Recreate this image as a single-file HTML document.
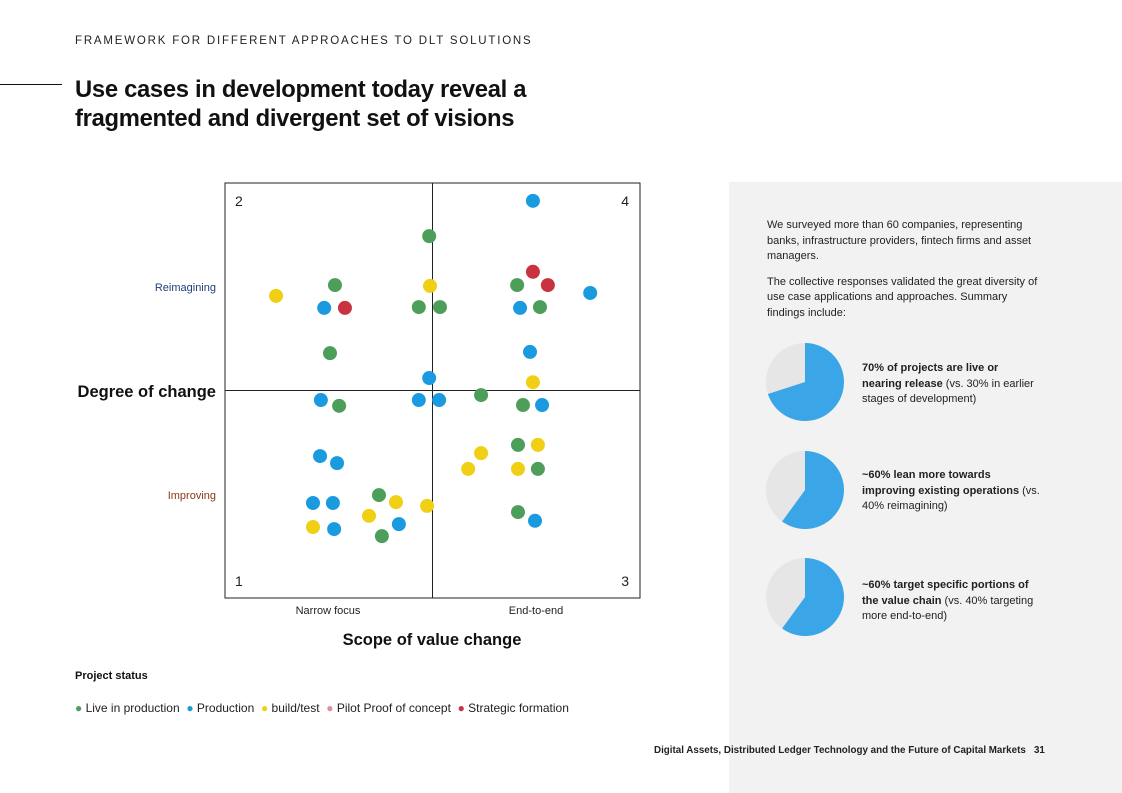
<!DOCTYPE html>
<html><head><meta charset="utf-8">
<style>
body{margin:0;width:1122px;height:793px;background:#fff;font-family:"Liberation Sans",sans-serif;position:relative;overflow:hidden;color:#111}
.abs{position:absolute}
</style></head><body>
<div class="abs" style="left:75px;top:35px;font-size:11.5px;letter-spacing:1.8px;color:#222">FRAMEWORK FOR DIFFERENT APPROACHES TO DLT SOLUTIONS</div>
<div class="abs" style="left:0;top:84px;width:62px;height:1px;background:#111"></div>
<div class="abs" style="left:75px;top:75px;font-size:23.8px;font-weight:bold;line-height:29px;letter-spacing:-0.3px">Use cases in development today reveal a<br>fragmented and divergent set of visions</div>
<div class="abs" style="left:729px;top:182px;width:393px;height:611px;background:#f2f2f2"></div>
<div class="abs" style="left:767px;top:218px;width:278px;font-size:11px;line-height:15.5px;color:#222">We surveyed more than 60 companies, representing banks, infrastructure providers, fintech firms and asset managers.<br><div style="height:10px"></div>The collective responses validated the great diversity of use case applications and approaches. Summary findings include:</div>
<div class="abs" style="left:862px;top:361px;width:178px;font-size:11px;line-height:15.5px;color:#222"><b>70% of projects are live or nearing release</b> (vs. 30% in earlier stages of development)</div>
<div class="abs" style="left:862px;top:468px;width:178px;font-size:11px;line-height:15.5px;color:#222"><b>~60% lean more towards improving existing operations</b> (vs. 40% reimagining)</div>
<div class="abs" style="left:862px;top:578px;width:182px;font-size:11px;line-height:15.5px;color:#222"><b>~60% target specific portions of the value chain</b> (vs. 40% targeting more end-to-end)</div>
<svg class="abs" style="left:0;top:0" width="1122" height="793" id="svg"></svg>
<div class="abs" style="left:75px;top:670px;font-size:11px;font-weight:bold">Project status</div>
<div class="abs" style="left:75px;top:701px;font-size:12px;color:#222;white-space:nowrap">
<span><span style="color:#4e9e5b">●</span> Live in production</span>&nbsp;
<span><span style="color:#1a9be0">●</span> Production</span>&nbsp;
<span><span style="color:#f0cf15">●</span> build/test</span>&nbsp;
<span><span style="color:#e0909a">●</span> Pilot Proof of concept</span>&nbsp;
<span><span style="color:#c9323f">●</span> Strategic formation</span></div>
<div class="abs" style="left:654px;top:745px;font-size:9.8px;font-weight:bold;color:#222">Digital Assets, Distributed Ledger Technology and the Future of Capital Markets &nbsp;&nbsp;31</div>
<script>
const liveX=[49.2,26.5,70.4,46.7,51.8,75.9,25.3,61.7,27.5,71.8,70.6,75.4,37.1,70.6,37.8];
const liveY=[87.2,75.4,75.4,70.1,70.1,70.1,59.0,48.9,46.3,46.5,36.9,31.1,24.8,20.7,14.9];
const prodX=[74.2,88.0,23.9,71.1,73.5,49.2,23.1,46.7,51.6,76.4,22.9,27.0,21.2,26.0,41.9,26.3,74.7];
const prodY=[95.7,73.5,69.9,69.9,59.3,53.0,47.7,47.7,47.7,46.5,34.2,32.5,22.9,22.9,17.8,16.6,18.6];
const buildX=[12.3,49.4,74.2,61.7,75.4,58.6,70.6,41.2,34.7,48.7,21.2];
const buildY=[72.8,75.2,52.0,34.9,36.9,31.1,31.1,23.1,19.8,22.2,17.1];
const stratX=[74.2,77.8,28.9];
const stratY=[78.6,75.4,69.9];
const pieShares=[70,60,60];
const NS="http://www.w3.org/2000/svg",svg=document.getElementById('svg');
const L=225,T=183,W=415,H=415;
const sx=v=>L+v/100*W, sy=v=>T+H-v/100*H;
function mk(t,a,txt){const e=document.createElementNS(NS,t);for(const k in a)e.setAttribute(k,a[k]);if(txt!=null)e.textContent=txt;svg.appendChild(e);return e;}
let e=mk('rect',{x:L,y:T,width:W,height:H,fill:'none',stroke:'#222','stroke-width':1});

e=mk('line',{x1:sx(50),x2:sx(50),y1:T,y2:T+H,stroke:'#222'});

e=mk('line',{x1:L,x2:L+W,y1:sy(50),y2:sy(50),stroke:'#222'});

const texts=[['quadrant-2','2',235,206,14,'start','#222','normal'],['quadrant-4','4',629,206,14,'end','#222','normal'],['quadrant-1','1',235,586,14,'start','#222','normal'],['quadrant-3','3',629,586,14,'end','#222','normal'],
['y-label-reimagining','Reimagining',216,291,11,'end','#1f3f7a','normal'],['y-label-improving','Improving',216,499,11,'end','#8a3a12','normal'],
['x-label-narrow','Narrow focus',328,614,11,'middle','#222','normal'],['x-label-end','End-to-end',536,614,11,'middle','#222','normal'],
['y-axis-title','Degree of change',216,397,16.5,'end','#111','bold'],['x-axis-title','Scope of value change',432,645,16.5,'middle','#111','bold']];
texts.forEach(t=>{const el=mk('text',{x:t[2],y:t[3],'font-size':t[4],'text-anchor':t[5],fill:t[6],'font-weight':t[7],'font-family':'Liberation Sans, sans-serif'},t[1]);
});
function dots(X,Y,c,n){X.forEach((x,i)=>{const d=mk('circle',{cx:sx(x),cy:sy(Y[i]),r:7,fill:c});
});}
dots(liveX,liveY,'#4e9e5b','dot-live');dots(prodX,prodY,'#1a9be0','dot-production');
dots(buildX,buildY,'#f0cf15','dot-build');dots(stratX,stratY,'#c9323f','dot-strategic');
const pcx=805,pcy=[382,490,597],pr=39;
pieShares.forEach((p,i)=>{const cy=pcy[i];
const bg=mk('circle',{cx:pcx,cy:cy,r:pr,fill:'#e6e6e6'});

const a=p/100*2*Math.PI,x=pcx+pr*Math.sin(a),y=cy-pr*Math.cos(a);
const s=mk('path',{d:`M${pcx},${cy}L${pcx},${cy-pr}A${pr},${pr} 0 ${p>50?1:0} 1 ${x},${y}Z`,fill:'#3aa6e8'});
});
</script>
</body></html>
